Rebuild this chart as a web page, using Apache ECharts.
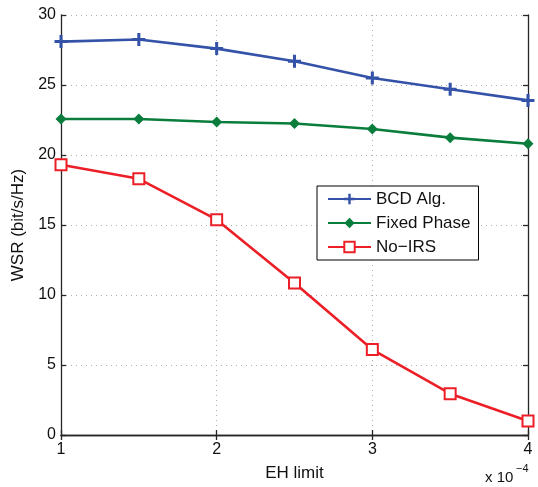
<!DOCTYPE html>
<html>
<head>
<meta charset="utf-8">
<script src="https://cdn.jsdelivr.net/npm/echarts@6/dist/echarts.min.js"></script>
<style>
html,body{margin:0;padding:0;background:#fff;}
#chart{width:538px;height:487px;}
</style>
</head>
<body>
<div id="chart"></div>
<script>
const xValues = [1, 1.5, 2, 2.5, 3, 3.5, 4];
const bcdValues = [28.1, 28.25, 27.6, 26.7, 25.5, 24.7, 23.9];
const fixedValues = [22.57, 22.57, 22.36, 22.25, 21.86, 21.24, 20.8];
const noIrsValues = [19.3, 18.3, 15.38, 10.86, 6.1, 2.95, 1.0];
const xTicks = [1, 2, 3, 4];
const yTicks = [0, 5, 10, 15, 20, 25, 30];
const seriesNames = ['BCD Alg.', 'Fixed Phase', 'No\u2212IRS'];

const FONT = 'Liberation Sans, Arial, Helvetica, sans-serif';
const pairs = (ys) => xValues.map((x, i) => [x, ys[i]]);
const plusPath = 'path://M4.6,0 L7.4,0 L7.4,4.6 L12,4.6 L12,7.4 L7.4,7.4 L7.4,12 L4.6,12 L4.6,7.4 L0,7.4 L0,4.6 L4.6,4.6 Z';

const axisLineStyle = { color: '#262626', width: 1.3 };
const splitStyle = { color: '#b0b0b0', width: 1, type: [1, 4] };

const chart = echarts.init(document.getElementById('chart'), null, { renderer: 'canvas' });
chart.setOption({
  animation: false,
  backgroundColor: '#fff',
  textStyle: { fontFamily: FONT },
  grid: { left: 61, right: 10, top: 15, bottom: 52, containLabel: false },
  legend: {
    orient: 'vertical',
    left: 317, top: 186,
    data: seriesNames,
    borderColor: '#000', borderWidth: 1,
    padding: [3, 8, 3, 10],
    itemGap: 4,
    itemWidth: 43, itemHeight: 13,
    backgroundColor: '#fff',
    textStyle: { fontSize: 17, color: '#111', fontFamily: FONT, lineHeight: 20 }
  },
  xAxis: [{
    type: 'value', min: 1, max: 4, interval: 1,
    name: 'EH limit', nameLocation: 'middle', nameGap: 30,
    nameTextStyle: { fontSize: 17, color: '#111', fontFamily: FONT },
    axisLine: { show: true, lineStyle: axisLineStyle },
    axisTick: { show: true, inside: true, length: 5, lineStyle: axisLineStyle },
    axisLabel: { fontSize: 16, color: '#111', margin: 7, fontFamily: FONT },
    splitLine: { show: true, lineStyle: splitStyle }
  }, {
    type: 'value', min: 1, max: 4, interval: 1, position: 'top',
    axisLine: { show: true, lineStyle: axisLineStyle },
    axisTick: { show: true, inside: true, length: 5, lineStyle: axisLineStyle },
    axisLabel: { show: false },
    splitLine: { show: false }
  }],
  yAxis: [{
    type: 'value', min: 0, max: 30, interval: 5,
    name: 'WSR (bit/s/Hz)', nameLocation: 'middle', nameGap: 31, nameRotate: 90,
    nameTextStyle: { fontSize: 17, color: '#111', fontFamily: FONT },
    axisLine: { show: true, lineStyle: axisLineStyle },
    axisTick: { show: true, inside: true, length: 5, lineStyle: axisLineStyle },
    axisLabel: { fontSize: 16, color: '#111', margin: 5, fontFamily: FONT },
    splitLine: { show: true, lineStyle: splitStyle }
  }, {
    type: 'value', min: 0, max: 30, interval: 5, position: 'right',
    axisLine: { show: true, lineStyle: axisLineStyle },
    axisTick: { show: true, inside: true, length: 5, lineStyle: axisLineStyle },
    axisLabel: { show: false },
    splitLine: { show: false }
  }],
  graphic: [{
    type: 'text', left: 485, top: 470,
    style: { text: 'x 10', fontSize: 15, fill: '#111', fontFamily: FONT }
  }, {
    type: 'text', left: 516, top: 463,
    style: { text: '\u22124', fontSize: 11, fill: '#111', fontFamily: FONT }
  }],
  series: [{
    name: seriesNames[0], type: 'line', data: pairs(bcdValues),
    symbol: plusPath, symbolSize: 13,
    lineStyle: { color: '#3352a8', width: 2.6 },
    itemStyle: { color: '#3352a8' }
  }, {
    name: seriesNames[1], type: 'line', data: pairs(fixedValues),
    symbol: 'diamond', symbolSize: 11,
    lineStyle: { color: '#0a7d3c', width: 2.6 },
    itemStyle: { color: '#0a7d3c' }
  }, {
    name: seriesNames[2], type: 'line', data: pairs(noIrsValues),
    symbol: 'emptyRect', symbolSize: 11,
    lineStyle: { color: '#ec1f27', width: 2.6 },
    itemStyle: { color: '#ec1f27', borderWidth: 2 }
  }]
});
</script>
</body>
</html>
